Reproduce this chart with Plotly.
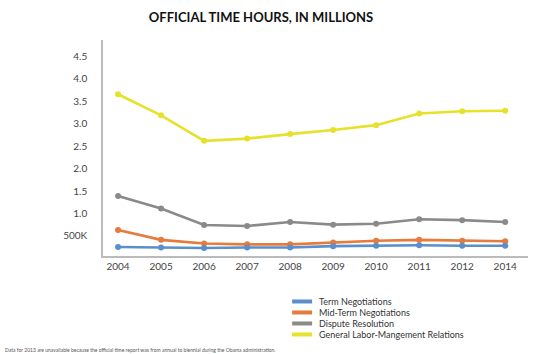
import plotly.graph_objects as go

years = ["2004", "2005", "2006", "2007", "2008", "2009", "2010", "2011", "2012", "2014"]
term_negotiations = [0.25, 0.24, 0.23, 0.24, 0.24, 0.27, 0.28, 0.29, 0.28, 0.28]
mid_term_negotiations = [0.63, 0.41, 0.33, 0.31, 0.31, 0.35, 0.39, 0.41, 0.39, 0.38]
dispute_resolution = [1.39, 1.11, 0.74, 0.72, 0.81, 0.75, 0.77, 0.87, 0.85, 0.81]
general_labor = [3.66, 3.19, 2.62, 2.67, 2.77, 2.86, 2.97, 3.23, 3.28, 3.29]

series_names = ["Term Negotiations", "Mid-Term Negotiations", "Dispute Resolution",
                "General Labor-Mangement Relations"]
series_values = [term_negotiations, mid_term_negotiations, dispute_resolution, general_labor]
series_colors = ["#5B8FCB", "#E57B3C", "#8A8A8A", "#E6E22C"]

ytick_vals = [0.5, 1.0, 1.5, 2.0, 2.5, 3.0, 3.5, 4.0, 4.5]
ytick_text = ["500K", "1.0", "1.5", "2.0", "2.5", "3.0", "3.5", "4.0", "4.5"]

title_text = "OFFICIAL TIME HOURS, IN MILLIONS"
footnote = ("Data for 2013 are unavailable because the official time report was from annual "
            "to biennial during the Obama administration.")

x_idx = list(range(len(years)))

fig = go.Figure()
for name, vals, col in reversed(list(zip(series_names, series_values, series_colors))):
    fig.add_trace(go.Scatter(
        x=x_idx, y=vals, name=name, mode="lines+markers",
        line=dict(color=col, width=2.6),
        marker=dict(color=col, size=6),
        showlegend=False,
    ))

# manual compact legend (below the plot)
legend_top = -0.2106
row_gap = 0.0509
for i, (name, col) in enumerate(zip(series_names, series_colors)):
    yy = legend_top - i * row_gap
    fig.add_shape(type="line", xref="paper", yref="paper",
                  x0=0.445, x1=0.492, y0=yy, y1=yy,
                  line=dict(color=col, width=4))
    fig.add_annotation(text=name, xref="paper", yref="paper",
                       x=0.506, y=yy, xanchor="left", yanchor="middle",
                       showarrow=False, borderpad=0,
                       font=dict(size=9, color="#333333", family="Lato"))

fig.add_annotation(text=footnote, xref="paper", yref="paper",
                   x=-0.232, y=-0.435, xanchor="left", yanchor="middle",
                   showarrow=False, borderpad=0,
                   font=dict(size=5, color="#555555", family="Lato"))

fig.update_layout(
    width=553, height=354,
    margin=dict(l=103, r=25, t=40, b=98),
    paper_bgcolor="white", plot_bgcolor="white",
    title=dict(text="<b>" + title_text + "</b>", x=0.472, xanchor="center",
               y=0.95, yanchor="middle",
               font=dict(size=13, color="#111111", family="Lato")),
    font=dict(family="Lato", color="#444444"),
    xaxis=dict(
        tickmode="array", tickvals=x_idx, ticktext=years,
        range=[-0.35, 9.53], showgrid=False, zeroline=False,
        showline=True, linecolor="#BBBBBB", linewidth=1.5,
        ticks="", tickfont=dict(size=10, color="#444444"),
    ),
    yaxis=dict(
        tickmode="array", tickvals=ytick_vals, ticktext=ytick_text,
        range=[0.05, 4.87], showgrid=False, zeroline=False,
        showline=True, linecolor="#BBBBBB", linewidth=1.5,
        ticks="", ticklabelstandoff=12, tickfont=dict(size=10, color="#444444"),
    ),
)

fig.write_html("out.html")
